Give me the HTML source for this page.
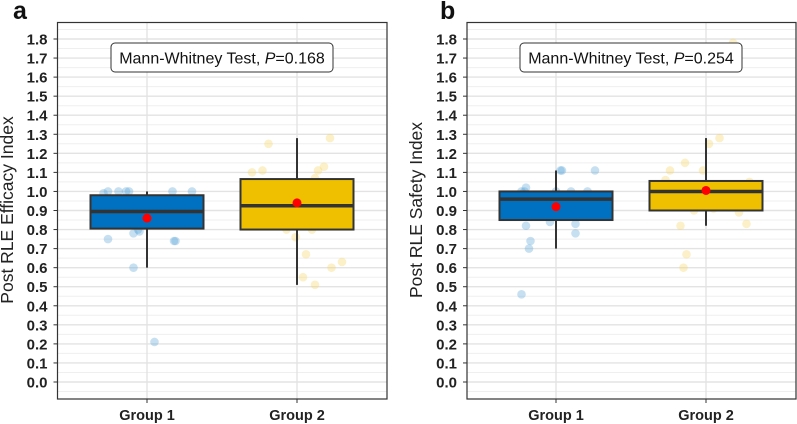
<!DOCTYPE html>
<html><head><meta charset="utf-8"><style>
html,body{margin:0;padding:0;background:#fff;}
svg{display:block;font-family:"Liberation Sans",Arial,sans-serif;}
</style></head><body>
<svg id="fig" width="797" height="424" viewBox="0 0 797 424"></svg>
<script>
const yTicks=[0,0.1,0.2,0.3,0.4,0.5,0.6,0.7,0.8,0.9,1.0,1.1,1.2,1.3,1.4,1.5,1.6,1.7,1.8];
const groups=["Group 1","Group 2"];
// stats: [whiskerLow,q1,median,q3,whiskerHigh,mean]
const statsA1=[0.60,0.805,0.895,0.98,1.0,0.86];
const statsA2=[0.51,0.80,0.925,1.065,1.28,0.94];
const statsB1=[0.70,0.85,0.96,1.0,1.11,0.92];
const statsB2=[0.82,0.90,1.0,1.055,1.28,1.005];
const ptsA1=[1.0,1.0,1.0,1.0,0.99,1.0,1.0,0.9,0.9,0.9,0.80,0.79,0.78,0.75,0.74,0.74,0.60,0.21];
const jitA1=[-0.26,-0.19,-0.14,-0.12,-0.29,0.17,0.30,-0.10,0.08,0.20,-0.06,-0.05,-0.09,-0.26,0.18,0.19,-0.09,0.05];
const ptsA2=[1.28,1.25,1.13,1.11,1.11,1.10,1.07,0.94,0.93,0.93,0.80,0.80,0.76,0.67,0.63,0.60,0.55,0.51];
const jitA2=[0.22,-0.19,0.18,-0.23,0.14,-0.30,0.12,0.27,-0.15,0.09,-0.07,0.10,-0.01,0.06,0.30,0.23,0.04,0.12];
const ptsB1=[1.11,1.11,1.11,1.02,1.0,1.0,1.0,1.0,1.0,0.96,0.84,0.83,0.82,0.78,0.74,0.70,0.46];
const jitB1=[0.03,0.04,0.26,-0.20,-0.23,-0.21,0.0,0.10,0.21,-0.05,-0.04,0.13,-0.20,0.13,-0.17,-0.18,-0.23];
const ptsB2=[1.78,1.28,1.25,1.15,1.11,1.11,1.06,1.05,1.0,1.0,0.99,0.91,0.90,0.89,0.83,0.82,0.67,0.60];
const jitB2=[0.18,0.09,0.02,-0.14,-0.24,-0.02,-0.27,0.29,0.07,0.27,-0.25,0.05,-0.08,0.22,0.27,-0.17,-0.13,-0.15];
const titles=["Post RLE Efficacy Index","Post RLE Safety Index"];
const pvals=["0.168","0.254"];
const letters=["a","b"];

const NS="http://www.w3.org/2000/svg";
const svg=document.getElementById('fig');
function el(tag,attrs,parent,text){const e=document.createElementNS(NS,tag);for(const k in attrs)e.setAttribute(k,attrs[k]);if(text!=null)e.textContent=text;(parent||svg).appendChild(e);return e;}

function panel(pi,L,R,gx,titleX,letterX,annX,stats,pts,jits){
  const g=el('g',{});
  
  
  const T=22.5,B=399;
  const y=v=>382-v*(343/1.8);
  const x=(gi,j)=>gx[gi]+j*150;
  for(let k=-1;k<=37;k++){const v=k*0.05;const yy=y(v);if(yy<T||yy>B)continue;
    const major=k%2===0;
    const ln=el('line',{x1:L,x2:R,y1:yy,y2:yy,stroke:major?'#e3e3e3':'#efefef','stroke-width':major?1.4:1},g);
    
    }
  gx.forEach(xx=>{const ln=el('line',{x1:xx,x2:xx,y1:T,y2:B,stroke:'#e3e3e3','stroke-width':1.4},g);
    
    });
  const fills=['#0071C1','#EEC000'];
  const ptc=['#5DA5DA','#F5D563'];
  for(let gi=0;gi<2;gi++){
    const s=stats[gi];
    pts[gi].forEach((v,i)=>{const c=el('circle',{cx:x(gi,jits[gi][i]),cy:y(v),r:4.3,fill:ptc[gi],'fill-opacity':0.35},g);
      
      });
    const w=el('line',{x1:gx[gi],x2:gx[gi],y1:y(s[4]),y2:y(s[0]),stroke:'#333','stroke-width':2},g);
    
    
    const bx=el('rect',{x:gx[gi]-56.5,y:y(s[3]),width:113,height:y(s[1])-y(s[3]),fill:fills[gi],stroke:'#333','stroke-width':2},g);
    
    
    const md=el('line',{x1:gx[gi]-56.5,x2:gx[gi]+56.5,y1:y(s[2]),y2:y(s[2]),stroke:'#333','stroke-width':3.5},g);
    
    
    const mn=el('circle',{cx:gx[gi],cy:y(s[5]),r:4.5,fill:'#ff0000'},g);
    
    
    const tk=el('line',{x1:gx[gi],x2:gx[gi],y1:B,y2:B+4,stroke:'#333','stroke-width':1},g);
    
    
    const tl=el('text',{x:gx[gi],y:B+21,'text-anchor':'middle','font-size':14.5,'font-weight':'bold',fill:'#222'},g,groups[gi]);
    
    
  }
  yTicks.forEach(v=>{
    const tk=el('line',{x1:L-4,x2:L,y1:y(v),y2:y(v),stroke:'#333','stroke-width':1},g);
    
    
    const t=el('text',{x:L-10,y:y(v)+5.5,'text-anchor':'end','font-size':15,'font-weight':'bold',fill:'#222'},g,v.toFixed(1));
    
    
  });
  const fr=el('rect',{x:L,y:T,width:R-L,height:B-T,fill:'none',stroke:'#333','stroke-width':1.2},g);
  
  
  const yt=el('text',{x:0,y:0,transform:`translate(${titleX},210) rotate(-90)`,'text-anchor':'middle','font-size':17.5,fill:'#222'},g,titles[pi]);
  
  
  const lt=el('text',{x:letterX,y:19,'font-size':25,'font-weight':'bold',fill:'#111'},g,letters[pi]);
  
  
  const ab=el('rect',{x:annX,y:43,width:222,height:29,rx:4,fill:'#fff',stroke:'#333','stroke-width':1},g);
  
  
  const at=el('text',{x:annX+111,y:63.5,'text-anchor':'middle','font-size':16,fill:'#111'},g);
  
  
  el('tspan',{},at,'Mann-Whitney Test, ');
  el('tspan',{'font-style':'italic'},at,'P');
  el('tspan',{},at,'='+pvals[pi]);
}
panel(0,57.5,387,[147,297],13,13,111,[statsA1,statsA2],[ptsA1,ptsA2],[jitA1,jitA2]);
panel(1,467,796,[556,706],422,440,520,[statsB1,statsB2],[ptsB1,ptsB2],[jitB1,jitB2]);
</script>
</body></html>
